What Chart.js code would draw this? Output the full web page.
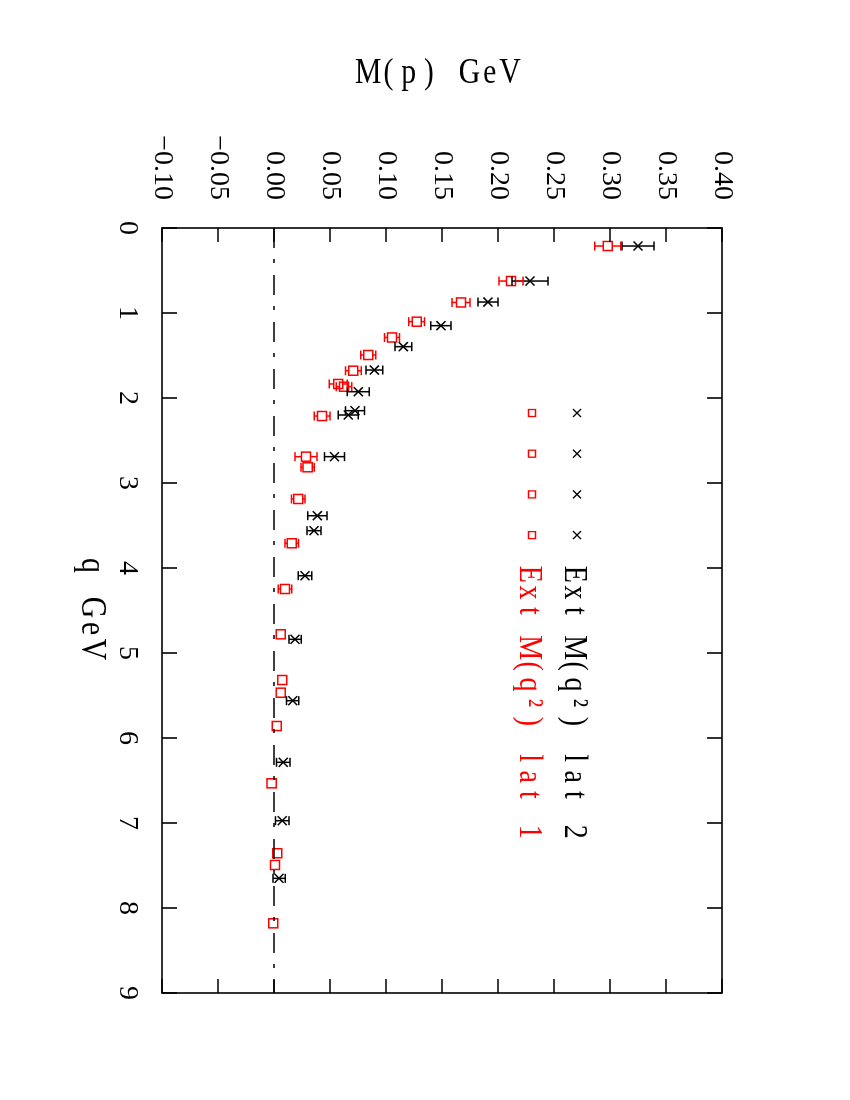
<!DOCTYPE html>
<html>
<head>
<meta charset="utf-8">
<script src="https://cdn.jsdelivr.net/npm/chart.js@4.4.1/dist/chart.umd.min.js"></script>
<style>
  html, body { margin: 0; padding: 0; background: #fff; overflow: hidden; }
  /* the plot is drawn landscape and turned a quarter clockwise */
  #page {
    position: absolute; left: 0; top: 0; width: 1100px; height: 850px;
    transform-origin: 0 0; transform: translate(850px, 0) rotate(90deg);
  }
</style>
</head>
<body>
<div id="page"><canvas id="myChart" width="1100" height="850"></canvas></div>
<script>
// lat 2 (black crosses)
var qLat2 = [0.212, 0.624, 0.871, 1.149, 1.396, 1.671, 1.926, 2.149, 2.200, 2.690,
             3.385, 3.561, 4.091, 4.839, 5.561, 6.286, 6.973, 7.651];
var mLat2 = [0.325, 0.2286, 0.191, 0.149, 0.1155, 0.0896, 0.0753, 0.0723, 0.0663, 0.054,
             0.0387, 0.0357, 0.0277, 0.0188, 0.0167, 0.0083, 0.0074, 0.0045];
var eLat2 = [0.0143, 0.016, 0.0089, 0.009, 0.0074, 0.0074, 0.0098, 0.0085, 0.0089, 0.0089,
             0.0086, 0.0063, 0.006, 0.0055, 0.0055, 0.006, 0.006, 0.0055];

// lat 1 (red squares)
var qLat1 = [0.212, 0.624, 0.876, 1.102, 1.288, 1.494, 1.679, 1.835, 1.867, 2.212,
             2.690, 2.815, 3.188, 3.709, 4.247, 4.780, 5.318, 5.467, 5.859, 6.533,
             7.356, 7.494, 8.180];
var mLat1 = [0.298, 0.2116, 0.167, 0.1274, 0.1054, 0.0842, 0.0708, 0.0574, 0.0625, 0.0429,
             0.0286, 0.030, 0.0217, 0.0158, 0.0098, 0.006, 0.0074, 0.006, 0.0024, -0.0021,
             0.0029, 0.0009, -0.0006];
var eLat1 = [0.0116, 0.0107, 0.008, 0.007, 0.0067, 0.0067, 0.007, 0.008, 0.007, 0.007,
             0.0098, 0.006, 0.006, 0.006, 0.006, 0.003, 0.003, 0.003, 0.003, 0.002,
             0.002, 0.002, 0.002];

var qTicks = [0, 1, 2, 3, 4, 5, 6, 7, 8, 9];
var mTicks = [-0.10, -0.05, 0.00, 0.05, 0.10, 0.15, 0.20, 0.25, 0.30, 0.35, 0.40];

var xTitle = 'q GeV';
var yTitle = 'M(p) GeV';
var legendLabels = ['Ext M(q\u00B2) lat 2', 'Ext M(q\u00B2) lat 1'];

function toPoints(xs, ys) {
    return xs.map(function (x, i) { return { x: x, y: ys[i] }; });
}

// old plotter look: serif letters set in fixed cells
function drawMono(ctx, text, x, y, advance, size, sx) {
    ctx.font = size + 'px "Liberation Serif"';
    ctx.textAlign = 'center';
    ctx.textBaseline = 'alphabetic';
    for (var i = 0; i < text.length; i++) {
        ctx.save();
        ctx.translate(x + (i + 0.5) * advance, y);
        ctx.scale(sx, 1);
        ctx.fillText(text[i], 0, 0);
        ctx.restore();
    }
}

// error bars, with a gap inside hollow markers
var errorBars = {
    id: 'errorBars',
    afterDatasetsDraw: function (chart) {
        var ctx = chart.ctx;
        var yScale = chart.scales.y;
        chart.data.datasets.forEach(function (ds, di) {
            if (!ds.errors) return;
            var meta = chart.getDatasetMeta(di);
            var gap = ds.barGap || 0;
            ctx.save();
            ctx.strokeStyle = ds.borderColor;
            ctx.lineWidth = 1.5;
            meta.data.forEach(function (pt, i) {
                var m = ds.data[i].y, e = ds.errors[i];
                var lo = yScale.getPixelForValue(m - e);
                var hi = yScale.getPixelForValue(m + e);
                ctx.beginPath();
                if (lo - pt.y > gap) {
                    ctx.moveTo(pt.x, lo); ctx.lineTo(pt.x, pt.y + gap);
                    ctx.moveTo(pt.x - 4.5, lo); ctx.lineTo(pt.x + 4.5, lo);
                }
                if (pt.y - hi > gap) {
                    ctx.moveTo(pt.x, pt.y - gap); ctx.lineTo(pt.x, hi);
                    ctx.moveTo(pt.x - 4.5, hi); ctx.lineTo(pt.x + 4.5, hi);
                }
                ctx.stroke();
            });
            ctx.restore();
        });
    }
};

// box with inward ticks on all four sides, plus the axis titles
var frame = {
    id: 'frame',
    afterDraw: function (chart) {
        var ctx = chart.ctx, a = chart.chartArea;
        var xs = chart.scales.x, ys = chart.scales.y;
        ctx.save();
        ctx.strokeStyle = '#000';
        ctx.lineWidth = 1.6;
        ctx.strokeRect(a.left, a.top, a.right - a.left, a.bottom - a.top);
        ctx.beginPath();
        qTicks.forEach(function (v) {
            var px = xs.getPixelForValue(v);
            ctx.moveTo(px, a.bottom); ctx.lineTo(px, a.bottom - 15);
            ctx.moveTo(px, a.top); ctx.lineTo(px, a.top + 15);
        });
        mTicks.forEach(function (v) {
            var py = ys.getPixelForValue(v);
            ctx.moveTo(a.left, py); ctx.lineTo(a.left + 14, py);
            ctx.moveTo(a.right, py); ctx.lineTo(a.right - 14, py);
        });
        ctx.stroke();

        ctx.fillStyle = '#000';
        // x title under the q labels
        var cx = (a.left + a.right) / 2 - 3;
        drawMono(ctx, xTitle, cx - xTitle.length * 21 / 2, a.bottom + 80, 21, 35, 0.85);
        // y title, turned to read along the axis
        var cy = (a.top + a.bottom) / 2 + 3;
        ctx.save();
        ctx.translate(83, cy + yTitle.length * 20.25 / 2);
        ctx.rotate(-Math.PI / 2);
        drawMono(ctx, yTitle, 0, 0, 20.25, 35, 0.85);
        ctx.restore();
        ctx.restore();
    }
};

// legend: four sample symbols then the label
var symLegend = {
    id: 'symLegend',
    afterDraw: function (chart) {
        var ctx = chart.ctx, a = chart.chartArea;
        var rows = [
            { color: '#000000', style: 'cross', my: 145, by: 157, text: legendLabels[0] },
            { color: '#ff0000', style: 'square', my: 190, by: 202, text: legendLabels[1] }
        ];
        ctx.save();
        rows.forEach(function (r) {
            ctx.strokeStyle = r.color;
            ctx.fillStyle = r.color;
            ctx.lineWidth = 1.3;
            for (var i = 0; i < 4; i++) {
                var x = a.left + 185 + i * 40.7, y = a.top + r.my;
                ctx.beginPath();
                if (r.style === 'cross') {
                    ctx.moveTo(x - 4, y - 4); ctx.lineTo(x + 4, y + 4);
                    ctx.moveTo(x - 4, y + 4); ctx.lineTo(x + 4, y - 4);
                } else {
                    ctx.rect(x - 3.5, y - 3.5, 7, 7);
                }
                ctx.stroke();
            }
            drawMono(ctx, r.text, a.left + 337, a.top + r.by, 18.4, 33, 0.85);
        });
        ctx.restore();
    }
};

var ctx = document.getElementById('myChart').getContext('2d');

var myChart = new Chart(ctx, {
    type: 'scatter',
    data: {
        datasets: [
            {
                label: 'zero',
                data: [{ x: 0, y: 0 }, { x: 9, y: 0 }],
                showLine: true,
                borderColor: '#000',
                borderWidth: 1.6,
                borderDash: [20, 11, 4, 12],
                pointRadius: 0
            },
            {
                label: legendLabels[0],
                data: toPoints(qLat2, mLat2),
                errors: eLat2,
                barGap: 0,
                pointStyle: 'crossRot',
                pointRadius: 6.4,
                borderColor: '#000000',
                borderWidth: 1.5
            },
            {
                label: legendLabels[1],
                data: toPoints(qLat1, mLat1),
                errors: eLat1,
                barGap: 4.5,
                pointStyle: 'rect',
                pointRadius: 6.4,
                borderColor: '#ff0000',
                backgroundColor: 'rgba(0,0,0,0)',
                borderWidth: 1.5
            }
        ]
    },
    options: {
        responsive: false,
        animation: false,
        layout: { padding: { top: 128, right: 107, left: 0, bottom: 0 } },
        plugins: {
            legend: { display: false },
            tooltip: { enabled: false }
        },
        scales: {
            x: {
                type: 'linear',
                position: 'bottom',
                min: 0,
                max: 9,
                afterBuildTicks: function (scale) {
                    scale.ticks = qTicks.map(function (v) { return { value: v }; });
                },
                afterFit: function (scale) { scale.height = 162; },
                grid: { display: false, drawTicks: false, tickLength: 0 },
                border: { display: false },
                ticks: {
                    color: '#000',
                    padding: 18,
                    maxRotation: 0,
                    font: { family: '"Liberation Serif"', size: 28 },
                    callback: function (v) { return String(v); }
                }
            },
            y: {
                type: 'linear',
                position: 'left',
                min: -0.10,
                max: 0.40,
                afterBuildTicks: function (scale) {
                    scale.ticks = mTicks.map(function (v) { return { value: v }; });
                },
                afterFit: function (scale) { scale.width = 228; },
                grid: { display: false, drawTicks: false, tickLength: 0 },
                border: { display: false },
                ticks: {
                    color: '#000',
                    padding: 28,
                    font: { family: '"Liberation Serif"', size: 28 },
                    callback: function (v) {
                        return (v < 0 ? '\u2212' : '') + Math.abs(v).toFixed(2);
                    }
                }
            }
        }
    },
    plugins: [errorBars, frame, symLegend]
});
</script>
</body>
</html>
